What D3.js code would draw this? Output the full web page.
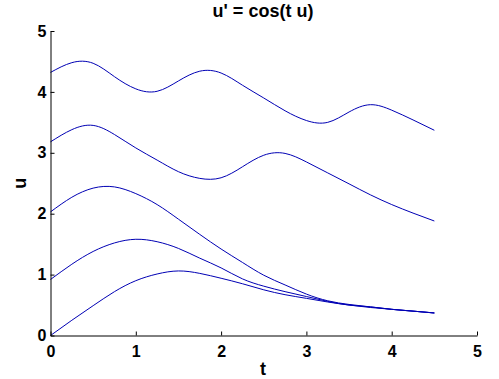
<!DOCTYPE html>
<meta charset="utf-8">
<script src="https://d3js.org/d3.v7.min.js"></script>
<style>
  body { margin: 0; background: #fff; }
  text { font-family: 'Liberation Sans', Arial, sans-serif; font-weight: bold; }
</style>
<div id="chart"></div>
<script>
// time samples shared by every solution curve
const tValues = [0, 0.25, 0.5, 0.75, 1, 1.25, 1.5, 1.75, 2, 2.25, 2.5, 2.75, 3, 3.25, 3.5, 3.75, 4, 4.25, 4.5];

// u(t), one array per starting value
const curveA = [4.32, 4.48, 4.47, 4.25, 4.05, 4.01, 4.18, 4.34, 4.31, 4.11, 3.90, 3.69, 3.53, 3.50, 3.67, 3.79, 3.70, 3.54, 3.37];
const curveB = [3.18, 3.38, 3.45, 3.30, 3.08, 2.88, 2.69, 2.58, 2.59, 2.77, 2.96, 2.99, 2.85, 2.67, 2.49, 2.31, 2.15, 2.01, 1.88];
const curveC = [2.03, 2.27, 2.42, 2.44, 2.33, 2.15, 1.91, 1.66, 1.42, 1.20, 0.99, 0.83, 0.68, 0.57, 0.51, 0.47, 0.43, 0.40, 0.37];
const curveD = [0.92, 1.17, 1.38, 1.52, 1.58, 1.54, 1.43, 1.27, 1.11, 0.93, 0.81, 0.72, 0.64, 0.56, 0.50, 0.47, 0.43, 0.40, 0.37];
const curveE = [0.00, 0.25, 0.49, 0.72, 0.90, 1.01, 1.06, 1.02, 0.94, 0.85, 0.75, 0.67, 0.61, 0.55, 0.50, 0.46, 0.43, 0.40, 0.37];

const xTicks = [0, 1, 2, 3, 4, 5];
const yTicks = [0, 1, 2, 3, 4, 5];

const W = 499, H = 379;
const plotLeft = 50.5, plotRight = 477, plotTop = 31, plotBottom = 335.5;

const svg = d3.select("#chart").append("svg")
  .attr("width", W)
  .attr("height", H);

const x = d3.scaleLinear().domain([0, 5]).range([plotLeft, plotRight]);
const y = d3.scaleLinear().domain([0, 5]).range([plotBottom, plotTop]);

// curves
const line = d3.line()
  .x(d => x(d[0]))
  .y(d => y(d[1]))
  .curve(d3.curveNatural);

[curveA, curveB, curveC, curveD, curveE].forEach(u => {
  svg.append("path")
    .datum(tValues.map((t, i) => [t, u[i]]))
    .attr("d", line)
    .attr("fill", "none")
    .attr("stroke", "#0000b4")
    .attr("stroke-width", 1);
});

// axes, ticks pointing inward
const fmt = d3.format("d");
const xAxis = svg.append("g")
  .attr("transform", "translate(0," + plotBottom + ")")
  .call(d3.axisBottom(x).tickValues(xTicks).tickFormat(fmt).tickSizeInner(-4).tickSizeOuter(0).tickPadding(10));

const yAxis = svg.append("g")
  .attr("transform", "translate(" + plotLeft + ",0)")
  .call(d3.axisLeft(y).tickValues(yTicks).tickFormat(fmt).tickSizeInner(-4).tickSizeOuter(0).tickPadding(4));

[xAxis, yAxis].forEach(g => {
  g.select(".domain").attr("stroke", "#000");
  g.selectAll(".tick line").attr("stroke", "#000");
  g.selectAll(".tick text")
    .attr("fill", "#000")
    .style("font-size", "16px")
    .style("font-family", "'Liberation Sans', Arial, sans-serif")
    .style("font-weight", "bold");
});

// title and labels
svg.append("text")
  .attr("x", 263)
  .attr("y", 17)
  .attr("text-anchor", "middle")
  .style("font-size", "18px")
  .text("u' = cos(t u)");

svg.append("text")
  .attr("x", 263)
  .attr("y", 375)
  .attr("text-anchor", "middle")
  .style("font-size", "18px")
  .text("t");

svg.append("text")
  .attr("transform", "translate(25.5," + (plotTop + plotBottom) / 2 + ") rotate(-90)")
  .attr("text-anchor", "middle")
  .style("font-size", "18px")
  .text("u");
</script>
